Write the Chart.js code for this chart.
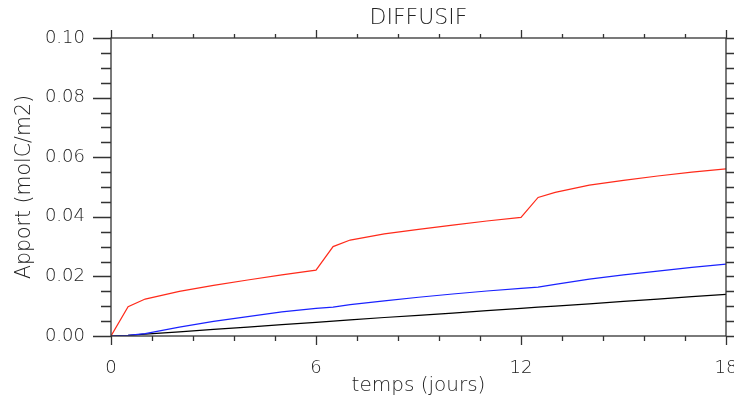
<!DOCTYPE html>
<html>
<head>
<meta charset="utf-8">
<script src="https://cdn.jsdelivr.net/npm/chart.js@4/dist/chart.umd.min.js"></script>
<style>
  body { margin: 0; background: #fff; }
  canvas { display: block; }
</style>
</head>
<body>
<canvas id="chart" width="734" height="404"></canvas>
<script>
// time axis (days) and the three cumulative series (molC/m2)
const days = [0, 0.5, 1, 2, 3, 4, 5, 6, 6.5, 7, 8, 9, 10, 11, 12, 12.5, 13, 14, 15, 16, 17, 18];
const redSeries = [0, 0.0098, 0.0124, 0.0150, 0.0170, 0.0188, 0.0205, 0.0221, 0.0300, 0.0322, 0.0343, 0.0358, 0.0372, 0.0386, 0.0398, 0.0465, 0.0482, 0.0506, 0.0522, 0.0537, 0.0550, 0.0561];
const blueSeries = [0, 0.0002, 0.0008, 0.0030, 0.0049, 0.0065, 0.0081, 0.0093, 0.0097, 0.0105, 0.0118, 0.0130, 0.0141, 0.0151, 0.0160, 0.0164, 0.0173, 0.0191, 0.0205, 0.0218, 0.0230, 0.0241];
const blackSeries = [0, 0.0002, 0.0006, 0.0014, 0.0022, 0.0030, 0.0038, 0.0046, 0.0050, 0.0054, 0.0062, 0.0069, 0.0077, 0.0085, 0.0093, 0.0097, 0.0100, 0.0108, 0.0116, 0.0124, 0.0132, 0.0140];

const xMajorStep = 6, xMinorStep = 1.2;
const yMajorStep = 0.02, yMinorStep = 0.005;

const FONT = 'DejaVu Sans';
const WEIGHT = '200';
const INK = '#222';

function pts(ys) {
  return days.map((d, i) => ({ x: d, y: ys[i] }));
}

// IDL-style box with outward ticks on all four sides
const frame = {
  id: 'frame',
  afterDraw(chart) {
    const { ctx, chartArea: a, scales: { x, y } } = chart;
    ctx.save();
    ctx.strokeStyle = '#333';
    ctx.lineWidth = 1.3;
    ctx.strokeRect(a.left, a.top, a.right - a.left, a.bottom - a.top);
    ctx.beginPath();
    const nx = Math.round((x.max - x.min) / xMinorStep);
    for (let i = 0; i <= nx; i++) {
      const v = x.min + i * xMinorStep;
      const px = Math.round(x.getPixelForValue(v)) + 0.5;
      const major = Math.abs(v / xMajorStep - Math.round(v / xMajorStep)) < 1e-6;
      const lb = major ? 9 : 5, lt = major ? 8 : 4;
      ctx.moveTo(px, a.bottom); ctx.lineTo(px, a.bottom + lb);
      ctx.moveTo(px, a.top); ctx.lineTo(px, a.top - lt);
    }
    const ny = Math.round((y.max - y.min) / yMinorStep);
    for (let i = 0; i <= ny; i++) {
      const v = y.min + i * yMinorStep;
      const py = Math.round(y.getPixelForValue(v)) + 0.5;
      const major = i % Math.round(yMajorStep / yMinorStep) === 0;
      const l = major ? 18 : 10;
      ctx.moveTo(a.left, py); ctx.lineTo(a.left - l, py);
      ctx.moveTo(a.right, py); ctx.lineTo(a.right + l, py);
    }
    ctx.stroke();
    ctx.restore();
  }
};

new Chart(document.getElementById('chart'), {
  type: 'line',
  data: {
    datasets: [
      { data: pts(redSeries), borderColor: '#ff2a1a' },
      { data: pts(blueSeries), borderColor: '#1a22ff' },
      { data: pts(blackSeries), borderColor: '#000' },
    ],
  },
  options: {
    responsive: false,
    animation: false,
    layout: { padding: { left: 0, right: 8, top: 0, bottom: 0 } },
    elements: {
      point: { radius: 0 },
      line: { borderWidth: 1.2, tension: 0, fill: false },
    },
    plugins: {
      legend: { display: false },
      tooltip: { enabled: false },
      title: {
        display: true,
        fullSize: false,
        text: 'DIFFUSIF',
        color: INK,
        font: { family: FONT, size: 22, weight: WEIGHT },
        padding: { top: 5, bottom: 6.6 },
      },
    },
    scales: {
      x: {
        type: 'linear',
        min: 0,
        max: 18,
        grid: { display: false, drawTicks: false },
        border: { display: false },
        ticks: { stepSize: xMajorStep, color: INK, font: { family: FONT, size: 18, weight: WEIGHT }, padding: 22, maxRotation: 0 },
        title: { display: true, text: 'temps (jours)', color: INK, font: { family: FONT, size: 20, weight: WEIGHT }, padding: { top: 0, bottom: 6 } },
        afterFit(s) { s.height = 68; s.paddingLeft = 0; s.paddingRight = 0; },
      },
      y: {
        min: 0,
        max: 0.1,
        grid: { display: false, drawTicks: false },
        border: { display: false },
        ticks: { stepSize: yMajorStep, color: INK, font: { family: FONT, size: 18, weight: WEIGHT }, padding: 26, callback: (v) => v.toFixed(2) },
        title: { display: true, text: 'Apport (molC/m2)', color: INK, font: { family: FONT, size: 20.5, weight: WEIGHT }, padding: { top: 12, bottom: 0 } },
        afterFit(s) { s.width = 111; s.paddingTop = 0; s.paddingBottom = 0; },
      },
    },
  },
  plugins: [frame],
});
</script>
</body>
</html>
